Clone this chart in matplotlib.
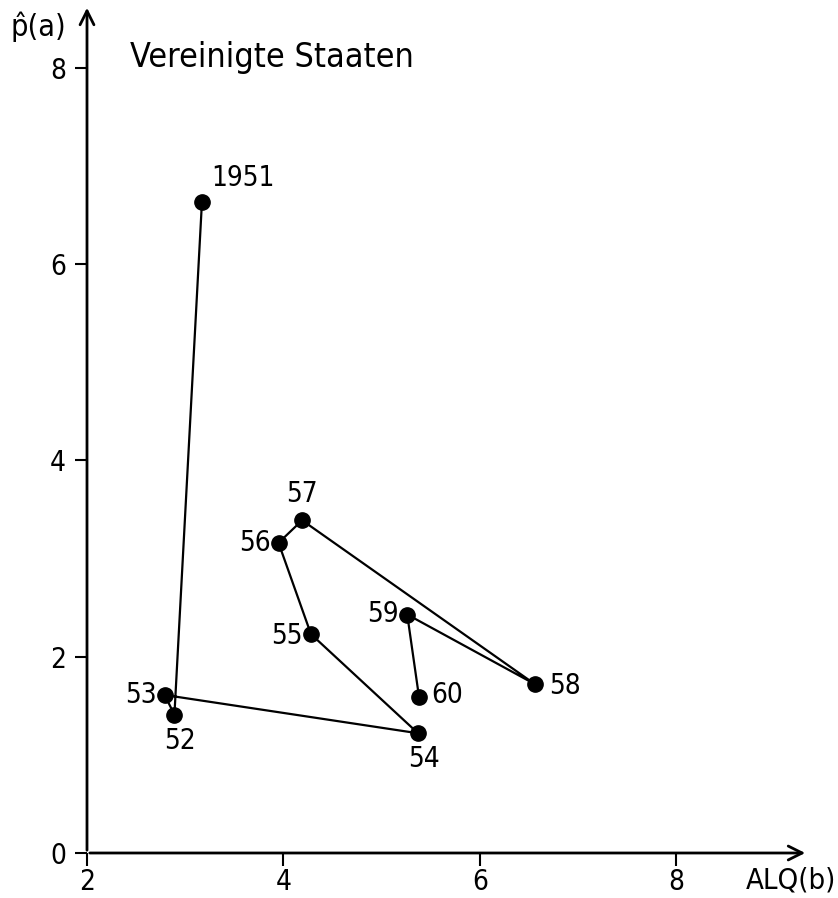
import matplotlib
matplotlib.use("Agg")
import matplotlib.pyplot as plt

# Vereinigte Staaten: ALQ (b) vs p-hat (a), 1951-1960
years = ["1951", "52", "53", "54", "55", "56", "57", "58", "59", "60"]
alq = [3.17, 2.89, 2.79, 5.37, 4.28, 3.95, 4.19, 6.56, 5.26, 5.38]
p_hat = [6.63, 1.41, 1.61, 1.22, 2.23, 3.16, 3.39, 1.72, 2.43, 1.59]

# label offsets in pixels (dx, dy, ha, va)
offsets = {
    "1951": (9, 10, "left", "bottom"),
    "52": (6, -12, "center", "top"),
    "53": (-8, 0, "right", "center"),
    "54": (6, -12, "center", "top"),
    "55": (-8, -2, "right", "center"),
    "56": (-8, 0, "right", "center"),
    "57": (0, 12, "center", "bottom"),
    "58": (14, -2, "left", "center"),
    "59": (-8, 0, "right", "center"),
    "60": (12, 2, "left", "center"),
}

plt.rcParams["font.family"] = ["DejaVu Sans"]
plt.rcParams["font.stretch"] = "condensed"
plt.rcParams["font.size"] = 20

fig = plt.figure(figsize=(8.38, 8.98), dpi=100)
ax = fig.add_axes([87 / 838, 45 / 898, 721 / 838, 848 / 898])
ax.set_xlim(2, 9.34)
ax.set_ylim(0, 8.64)

ax.plot(alq, p_hat, color="black", lw=1.6, marker="o", ms=11, zorder=3)

for yr, x, y in zip(years, alq, p_hat):
    dx, dy, ha, va = offsets[yr]
    ax.annotate(yr, (x, y), xytext=(dx, dy), textcoords="offset pixels",
                ha=ha, va=va, fontsize=20)

# axes drawn as arrows
for s in ax.spines.values():
    s.set_visible(False)
ax.annotate("", xy=(1, 0), xytext=(0, 0), xycoords="axes fraction",
            arrowprops=dict(arrowstyle="->", lw=2, color="black", mutation_scale=25))
ax.annotate("", xy=(0, 1), xytext=(0, 0), xycoords="axes fraction",
            arrowprops=dict(arrowstyle="->", lw=2, color="black", mutation_scale=25))

ax.set_xticks([2, 4, 6, 8])
ax.set_yticks([0, 2, 4, 6, 8])
ax.tick_params(direction="out", length=9, width=1.5, labelsize=20)
ax.tick_params(axis="x", pad=2)
ax.tick_params(axis="y", pad=6)

fig.text(130 / 838, 1 - 67 / 898, "Vereinigte Staaten", fontsize=24.5, va="baseline", ha="left")
fig.text(10 / 838, 1 - 36 / 898, "p\u0302(a)", fontsize=22, va="baseline", ha="left")
fig.text(836 / 838, 1 - 889 / 898, "ALQ(b)", fontsize=21, va="baseline", ha="right")

fig.savefig("out.png", dpi=100)
